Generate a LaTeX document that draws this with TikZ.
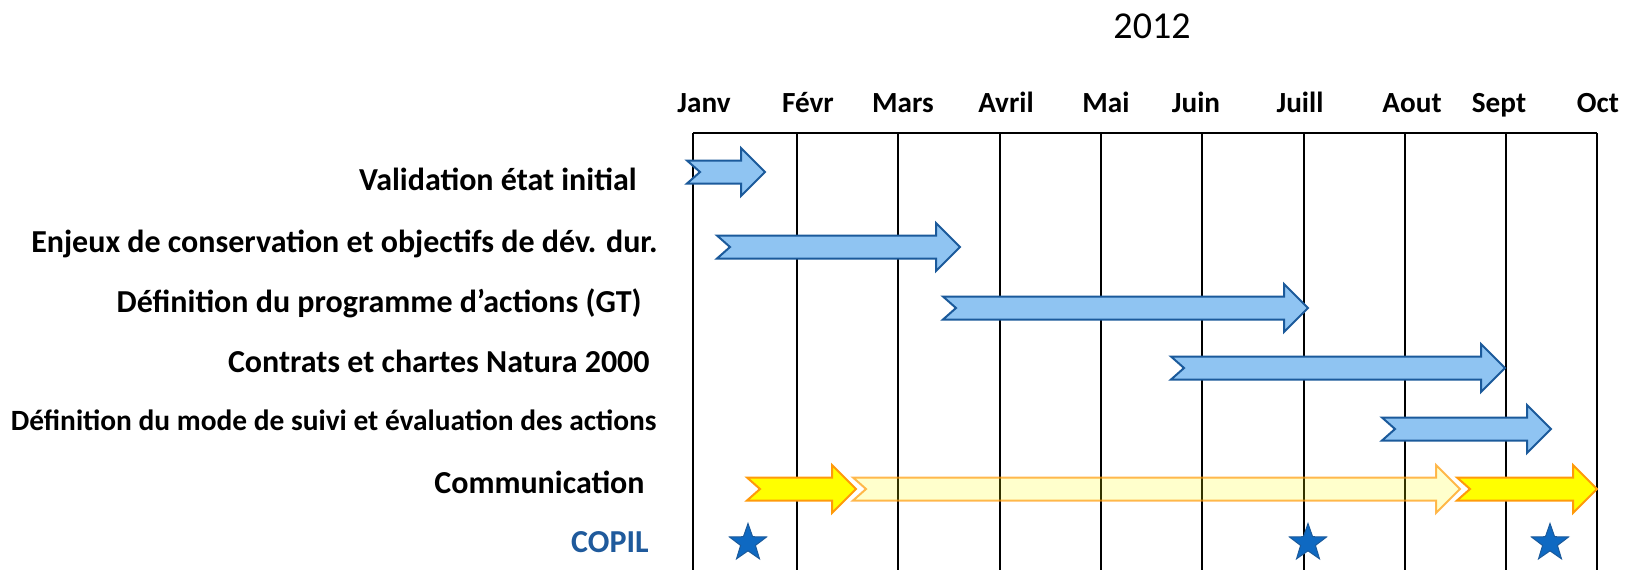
\documentclass[tikz,border=0pt]{standalone}
\usepackage{fontspec}
\setmainfont{Carlito}
\usepackage{tikz}
\usetikzlibrary{shapes.geometric}
\definecolor{barBlue}{HTML}{8FC4F2}
\definecolor{barBorder}{HTML}{1B5A9B}
\definecolor{commYellow}{HTML}{FFFF00}
\definecolor{commOrange}{HTML}{FF9A0A}
\definecolor{copilBlue}{HTML}{1F5A9C}
\definecolor{starBlue}{HTML}{0E69C2}

% one bar of the schedule: style, start, end, y
\newcommand{\tache}[4]{%
  \draw[#1] (#2,#4-11.5) -- (#3-24,#4-11.5) -- (#3-24,#4-24) -- (#3,#4)
    -- (#3-24,#4+24) -- (#3-24,#4+11.5) -- (#2,#4+11.5) -- (#2+13,#4) -- cycle;}

\tikzset{
  rowlabel/.style={anchor=base east, inner sep=0pt, font=\fontsize{16}{19}\selectfont\bfseries},
  month/.style={anchor=base, inner sep=0pt, font=\fontsize{14.6}{17}\selectfont\bfseries},
  bluebar/.style={draw=barBorder, fill=barBlue, line width=1pt},
  yellowbar/.style={draw=commOrange, fill=commYellow, line width=1pt},
  palebar/.style={draw=commOrange, draw opacity=0.7, fill=commYellow, fill opacity=0.2, line width=1pt},
  copil/.style={star, star points=5, star point ratio=2.5, minimum size=19.5pt, inner sep=0pt,
    draw=barBorder, fill=starBlue, line width=0.5pt}
}

\begin{document}
\begin{tikzpicture}[x=0.5pt, y=-0.5pt]

\useasboundingbox[fill=white] (0,0) rectangle (1632,570);

% grid
\draw[line width=1pt] (693,133) -- (1597,133);
\foreach \gx in {693,797,898,1000,1101,1202,1304,1405,1506,1597}
  \draw[line width=1pt] (\gx,133) -- (\gx,570);

% year and months
\node[anchor=base, inner sep=0pt, font=\fontsize{19}{22}\selectfont] (year) at (1152,38) {2012};
\node[month] (janv) at (704,112) {Janv};
\node[month] (fevr) at (808,112) {Févr};
\node[month] (mars) at (903,112) {Mars};
\node[month] (avril) at (1006,112) {Avril};
\node[month] (mai) at (1106,112) {Mai};
\node[month] (juin) at (1196,112) {Juin};
\node[month] (juill) at (1300,112) {Juill};
\node[month] (aout) at (1412,112) {Aout};
\node[month] (sept) at (1499,112) {Sept};
\node[month] (oct) at (1598,112) {Oct};

% tasks
\node[rowlabel] (validation) at (637,190) {Validation état initial};
\node[rowlabel] (enjeux) at (658,252) {Enjeux de conservation et objectifs de dév. dur.};
\node[rowlabel] (programme) at (642,312) {Définition du programme d’actions (GT)};
\node[rowlabel] (contrats) at (650,372) {Contrats et chartes Natura 2000};
\node[rowlabel, font=\fontsize{14.7}{17}\selectfont\bfseries] (suivi) at (657,430) {Définition du mode de suivi et évaluation des actions};
\node[rowlabel] (communication) at (645,493) {Communication};
\node[rowlabel, text=copilBlue] (copilrow) at (649,552) {COPIL};

\tache{bluebar}{687}{765}{172}
\tache{bluebar}{717}{960}{247}
\tache{bluebar}{943}{1308}{308}
\tache{bluebar}{1171}{1505}{368}
\tache{bluebar}{1382}{1551}{429}

\tache{yellowbar}{747}{856}{489}
\tache{palebar}{853}{1460}{489}
\tache{yellowbar}{1457}{1597}{489}

% COPIL meetings
\node[copil] (copil1) at (748,543) {};
\node[copil] (copil2) at (1308,543) {};
\node[copil] (copil3) at (1550,543) {};

\end{tikzpicture}
\end{document}
